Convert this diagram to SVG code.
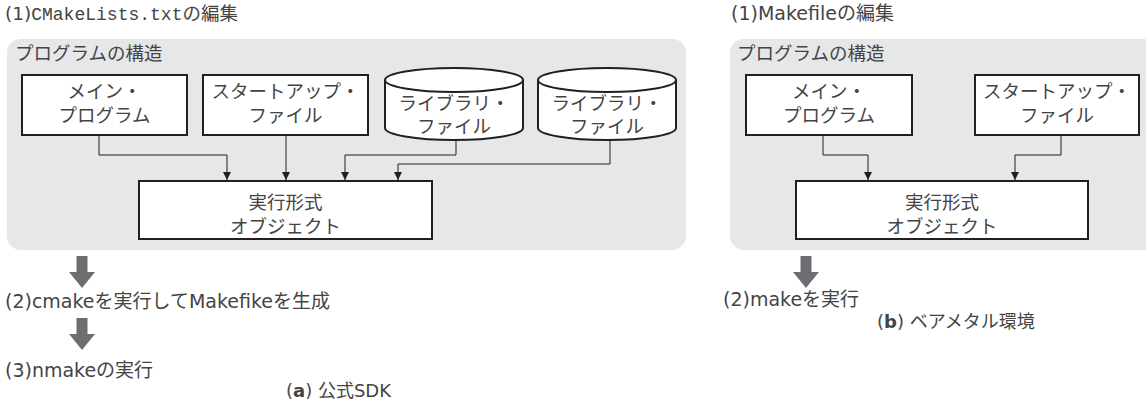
<svg xmlns="http://www.w3.org/2000/svg" width="1146" height="402" viewBox="0 0 1146 402">
<defs>
<style>
.t{font-family:"DejaVu Sans","Noto Sans CJK JP",sans-serif;font-size:18.5px;fill:#444}
.s{font-size:18px}
.c{text-anchor:middle}
.m{font-family:"Liberation Mono","DejaVu Sans Mono",monospace;font-size:18px}
.panel{fill:#e6e7e8}
.box{fill:#fff;stroke:#231f20;stroke-width:2}
.ln{fill:none;stroke:#231f20;stroke-width:1}
.big{fill:#6d6e71}
</style>
<marker id="ah" viewBox="0 0 8 10" refX="8" refY="5" markerWidth="8" markerHeight="10" markerUnits="userSpaceOnUse" orient="auto">
<path d="M0,1 L8,5 L0,9 Z" fill="#231f20"/>
</marker>
<path id="bigarrow" d="M-5.5,0 H5.5 V16 H13 L0,32 L-13,16 H-5.5 Z"/>
</defs>

<g id="panel-a">
<text class="t" x="5" y="20">(1)<tspan class="m">CMakeLists.txt</tspan>の編集</text>
<rect class="panel" x="7" y="39" width="679" height="211" rx="14"/>
<text class="t" x="15" y="60">プログラムの構造</text>
</g>

<g id="a-main">
<rect class="box" x="22" y="75" width="165" height="60"/>
<text class="t c" x="104.5" y="98">メイン・</text>
<text class="t c" x="104.5" y="122">プログラム</text>
</g>
<g id="a-startup">
<rect class="box" x="203" y="75" width="165" height="60"/>
<text class="t c" x="285.5" y="98">スタートアップ・</text>
<text class="t c" x="285.5" y="122">ファイル</text>
</g>
<g id="a-lib1">
<path class="box" d="M385,80 V128 A69,12 0 0 0 523,128 V80"/>
<ellipse class="box" cx="454" cy="80" rx="69" ry="12"/>
<text class="t c" x="454" y="110">ライブラリ・</text>
<text class="t c" x="454" y="133">ファイル</text>
</g>
<g id="a-lib2">
<path class="box" d="M538,80 V128 A69,12 0 0 0 676,128 V80"/>
<ellipse class="box" cx="607" cy="80" rx="69" ry="12"/>
<text class="t c" x="607" y="110">ライブラリ・</text>
<text class="t c" x="607" y="133">ファイル</text>
</g>
<g id="a-exec">
<rect class="box" x="139" y="181" width="293" height="58"/>
<text class="t c" x="285.5" y="209">実行形式</text>
<text class="t c" x="285.5" y="233">オブジェクト</text>
</g>

<g id="panel-b">
<text class="t" x="731" y="20" style="font-size:19px">(1)Makefileの編集</text>
<rect class="panel" x="730" y="39" width="440" height="211" rx="14"/>
<text class="t" x="737" y="60">プログラムの構造</text>
</g>
<g id="b-main">
<rect class="box" x="746" y="75" width="166" height="60"/>
<text class="t c" x="829" y="98">メイン・</text>
<text class="t c" x="829" y="122">プログラム</text>
</g>
<g id="b-startup">
<rect class="box" x="975" y="75" width="164" height="60"/>
<text class="t c" x="1057" y="98">スタートアップ・</text>
<text class="t c" x="1057" y="122">ファイル</text>
</g>
<g id="b-exec">
<rect class="box" x="796" y="181" width="292" height="58"/>
<text class="t c" x="942" y="209">実行形式</text>
<text class="t c" x="942" y="233">オブジェクト</text>
</g>

<g id="connectors">
<path class="ln" d="M99,135 V155 H227 V180" marker-end="url(#ah)"/>
<path class="ln" d="M286,135 V180" marker-end="url(#ah)"/>
<path class="ln" d="M456,140 V155 H345 V180" marker-end="url(#ah)"/>
<path class="ln" d="M610,140 V164 H398 V180" marker-end="url(#ah)"/>
<path class="ln" d="M823,135 V155 H868 V180" marker-end="url(#ah)"/>
<path class="ln" d="M1061,135 V155 H1015 V180" marker-end="url(#ah)"/>
<use href="#bigarrow" class="big" x="82" y="256"/>
<use href="#bigarrow" class="big" x="82" y="318"/>
<use href="#bigarrow" class="big" x="806" y="256"/>
</g>

<g id="steps">
<text class="t" x="5" y="308" style="font-size:19px">(2)cmakeを実行してMakefikeを生成</text>
<text class="t" x="5" y="377" style="font-size:19px">(3)nmakeの実行</text>
<text class="t" x="723" y="306" style="font-size:19px">(2)makeを実行</text>
<text class="t s" x="286" y="397">(<tspan font-weight="bold">a</tspan>) 公式SDK</text>
<text class="t s" x="877" y="328">(<tspan font-weight="bold">b</tspan>) ベアメタル環境</text>
</g>
</svg>
